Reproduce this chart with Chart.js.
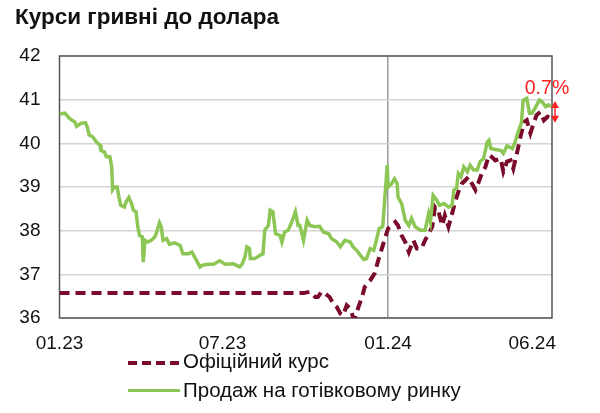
<!DOCTYPE html>
<html>
<head>
<meta charset="utf-8">
<script src="https://cdn.jsdelivr.net/npm/chart.js@4.4.1/dist/chart.umd.min.js"></script>
<style>
  html, body { margin: 0; padding: 0; background: #fff; }
  #wrap { position: relative; width: 600px; height: 413px; font-family: "Liberation Sans", Arial, sans-serif; }
  #title { position: absolute; left: 15px; top: 6px; font-size: 22.5px; line-height: 1; font-weight: bold; color: #111; white-space: nowrap; }
  .leg { position: absolute; left: 128px; font-size: 20.5px; line-height: 20.5px; color: #111; white-space: nowrap; }
  .leg .sample { position: absolute; left: 0; width: 52px; }
  .leg .text { position: absolute; left: 55px; top: 0; }
  #leg1 { top: 351px; }
  #leg2 { top: 380px; }
  #leg1 .sample { top: 10px; height: 4px; background: repeating-linear-gradient(to right, #7a0b2b 0 9px, transparent 9px 14px); }
  #leg2 .sample { top: 8.5px; height: 3.5px; background: #8cc654; }
  canvas { position: absolute; left: 0; top: 0; }
</style>
</head>
<body>
<div id="wrap">
  <canvas id="chart" width="600" height="413"></canvas>
  <div id="title">Курси гривні до долара</div>
  <div class="leg" id="leg1"><span class="sample"></span><span class="text">Офіційний курс</span></div>
  <div class="leg" id="leg2"><span class="sample"></span><span class="text">Продаж на готівковому ринку</span></div>
</div>
<script>
// days since 01.01.2023
const tickDays = [0, 181, 365, 525];
const tickLabels = ['01.23', '07.23', '01.24', '06.24'];

const cashDays = [0,6,11,17,19,24,29,31,33,37,41,45,46,50,52,56,58,59,61,64,66,68,72,74,77,80,82,85,87,89,92,93,95,98,102,106,108,111,113,115,119,122,128,134,137,143,147,150,156,159,165,171,178,184,193,200,203,206,208,211,212,217,223,226,228,232,234,237,240,245,247,250,254,258,262,265,267,271,275,278,284,289,293,299,302,308,312,317,323,326,330,334,338,341,345,349,352,355,359,362,364,365,369,372,375,376,380,384,388,391,395,401,406,410,412,415,419,422,427,432,436,438,441,443,446,449,453,456,460,464,467,471,475,477,479,484,490,493,497,503,506,510,513,515,519,522,525,529,533,536,540,543,546];
const cashRate = [40.67,40.69,40.57,40.49,40.39,40.46,40.47,40.36,40.19,40.15,40.03,39.96,39.84,39.80,39.69,39.69,39.46,38.94,39.0,39.0,38.77,38.58,38.54,38.66,38.76,38.62,38.47,38.43,38.08,37.89,37.86,37.28,37.78,37.74,37.78,37.86,37.97,38.18,38.09,37.78,37.82,37.69,37.72,37.66,37.47,37.47,37.51,37.40,37.17,37.21,37.23,37.23,37.31,37.23,37.24,37.17,37.24,37.40,37.63,37.59,37.36,37.36,37.44,37.47,38.01,38.12,38.47,38.43,37.93,37.89,37.74,37.97,38.01,38.20,38.43,38.12,38.12,37.78,38.24,38.12,38.09,38.10,37.97,37.93,37.82,37.74,37.63,37.78,37.74,37.63,37.55,37.44,37.34,37.36,37.59,37.55,37.78,38.05,38.09,38.93,39.50,39.0,39.08,39.19,39.08,38.77,38.62,38.24,38.12,38.28,38.09,38.01,38.01,38.39,38.20,38.81,38.70,38.58,38.62,38.54,38.58,38.93,38.97,39.31,39.23,39.46,39.35,39.50,39.39,39.39,39.58,39.65,40.03,40.07,39.88,39.86,39.84,39.77,39.94,39.88,40.03,40.30,40.46,40.99,41.03,40.69,40.69,40.84,40.99,40.95,40.84,40.88,40.84];

const officialDays = [0,271,278,284,287,291,295,300,304,308,312,315,319,323,326,328,332,336,339,345,350,354,358,362,365,369,373,376,380,384,388,393,397,402,406,410,414,417,421,425,428,432,436,440,443,447,451,454,458,462,465,469,473,477,480,484,490,493,497,501,504,508,512,516,519,523,527,530,534,538,542,546];
const officialRate = [36.57,36.57,36.60,36.48,36.48,36.60,36.56,36.48,36.33,36.25,36.10,36.06,36.29,36.21,36.02,35.98,36.25,36.48,36.71,36.86,37.02,37.32,37.59,37.86,38.05,38.12,38.20,38.12,37.89,37.74,37.51,37.78,37.59,37.59,37.78,37.93,38.09,38.54,38.43,38.12,38.35,38.09,38.39,38.70,38.89,39.08,39.16,39.23,39.08,38.93,39.08,39.31,39.46,39.73,39.69,39.61,39.65,39.35,39.58,39.61,39.42,39.77,40.15,40.49,40.53,40.23,40.49,40.65,40.72,40.53,40.61,40.57];

const gapLabel = '0.7%';
const gapTop = 40.97;
const gapBottom = 40.47;

const toPoints = (days, vals) => days.map((d, i) => ({ x: d, y: vals[i] }));

// frame around the plot area
const framePlugin = {
  id: 'frame',
  beforeDatasetsDraw(chart) {
    const { ctx, chartArea: a } = chart;
    ctx.save();
    ctx.strokeStyle = '#555';
    ctx.lineWidth = 1.5;
    ctx.strokeRect(a.left, a.top, a.right - a.left, a.bottom - a.top);
    ctx.restore();
  }
};

// "0.7%" label with double arrow at the right end
const gapPlugin = {
  id: 'gap',
  afterDraw(chart) {
    const { ctx, chartArea: a, scales } = chart;
    const y1 = scales.y.getPixelForValue(gapTop);
    const y2 = scales.y.getPixelForValue(gapBottom);
    const x = a.right + 3;
    ctx.save();
    ctx.strokeStyle = '#ff2020';
    ctx.fillStyle = '#ff2020';
    ctx.lineWidth = 1.5;
    ctx.beginPath();
    ctx.moveTo(x, y1 + 4);
    ctx.lineTo(x, y2 - 4);
    ctx.stroke();
    ctx.beginPath();
    ctx.moveTo(x, y1); ctx.lineTo(x - 4, y1 + 7); ctx.lineTo(x + 4, y1 + 7); ctx.closePath();
    ctx.moveTo(x, y2); ctx.lineTo(x - 4, y2 - 7); ctx.lineTo(x + 4, y2 - 7); ctx.closePath();
    ctx.fill();
    ctx.font = '19.5px "Liberation Sans", Arial, sans-serif';
    ctx.textAlign = 'center';
    ctx.textBaseline = 'alphabetic';
    ctx.fillText(gapLabel, x - 8, y1 - 7);
    ctx.restore();
  }
};

new Chart(document.getElementById('chart'), {
  type: 'line',
  data: {
    datasets: [
      {
        label: 'Продаж на готівковому ринку',
        data: toPoints(cashDays, cashRate),
        borderColor: '#8cc654',
        borderWidth: 3.5,
        pointRadius: 0,
        tension: 0,
        fill: false
      },
      {
        label: 'Офіційний курс',
        data: toPoints(officialDays, officialRate),
        borderColor: '#7a0b2b',
        borderWidth: 4,
        borderDash: [10, 6],
        pointRadius: 0,
        tension: 0,
        fill: false
      }
    ]
  },
  options: {
    responsive: false,
    animation: false,
    layout: { padding: { top: 56, right: 48, bottom: 0, left: 0 } },
    plugins: {
      legend: { display: false },
      title: { display: false },
      tooltip: { enabled: false }
    },
    scales: {
      x: {
        type: 'linear',
        min: 0,
        max: 547,
        afterFit: s => { s.height = 95; },
        afterBuildTicks: s => { s.ticks = tickDays.map(v => ({ value: v })); },
        ticks: {
          autoSkip: false,
          maxRotation: 0,
          padding: 14,
          color: '#111',
          font: { family: '"Liberation Sans", Arial, sans-serif', size: 19 },
          callback: v => tickLabels[tickDays.indexOf(v)]
        },
        grid: {
          drawTicks: false,
          lineWidth: 1.5,
          color: c => (c.tick && c.tick.value === 365 ? '#9a9a9a' : 'rgba(0,0,0,0)')
        },
        border: { display: false }
      },
      y: {
        min: 36,
        max: 42,
        afterFit: s => { s.width = 59.5; },
        ticks: {
          stepSize: 1,
          padding: 19,
          color: '#111',
          font: { family: '"Liberation Sans", Arial, sans-serif', size: 19 }
        },
        grid: { drawTicks: false, color: '#d4d4d4', lineWidth: 1.5 },
        border: { display: false }
      }
    }
  },
  plugins: [framePlugin, gapPlugin]
});
</script>
</body>
</html>
